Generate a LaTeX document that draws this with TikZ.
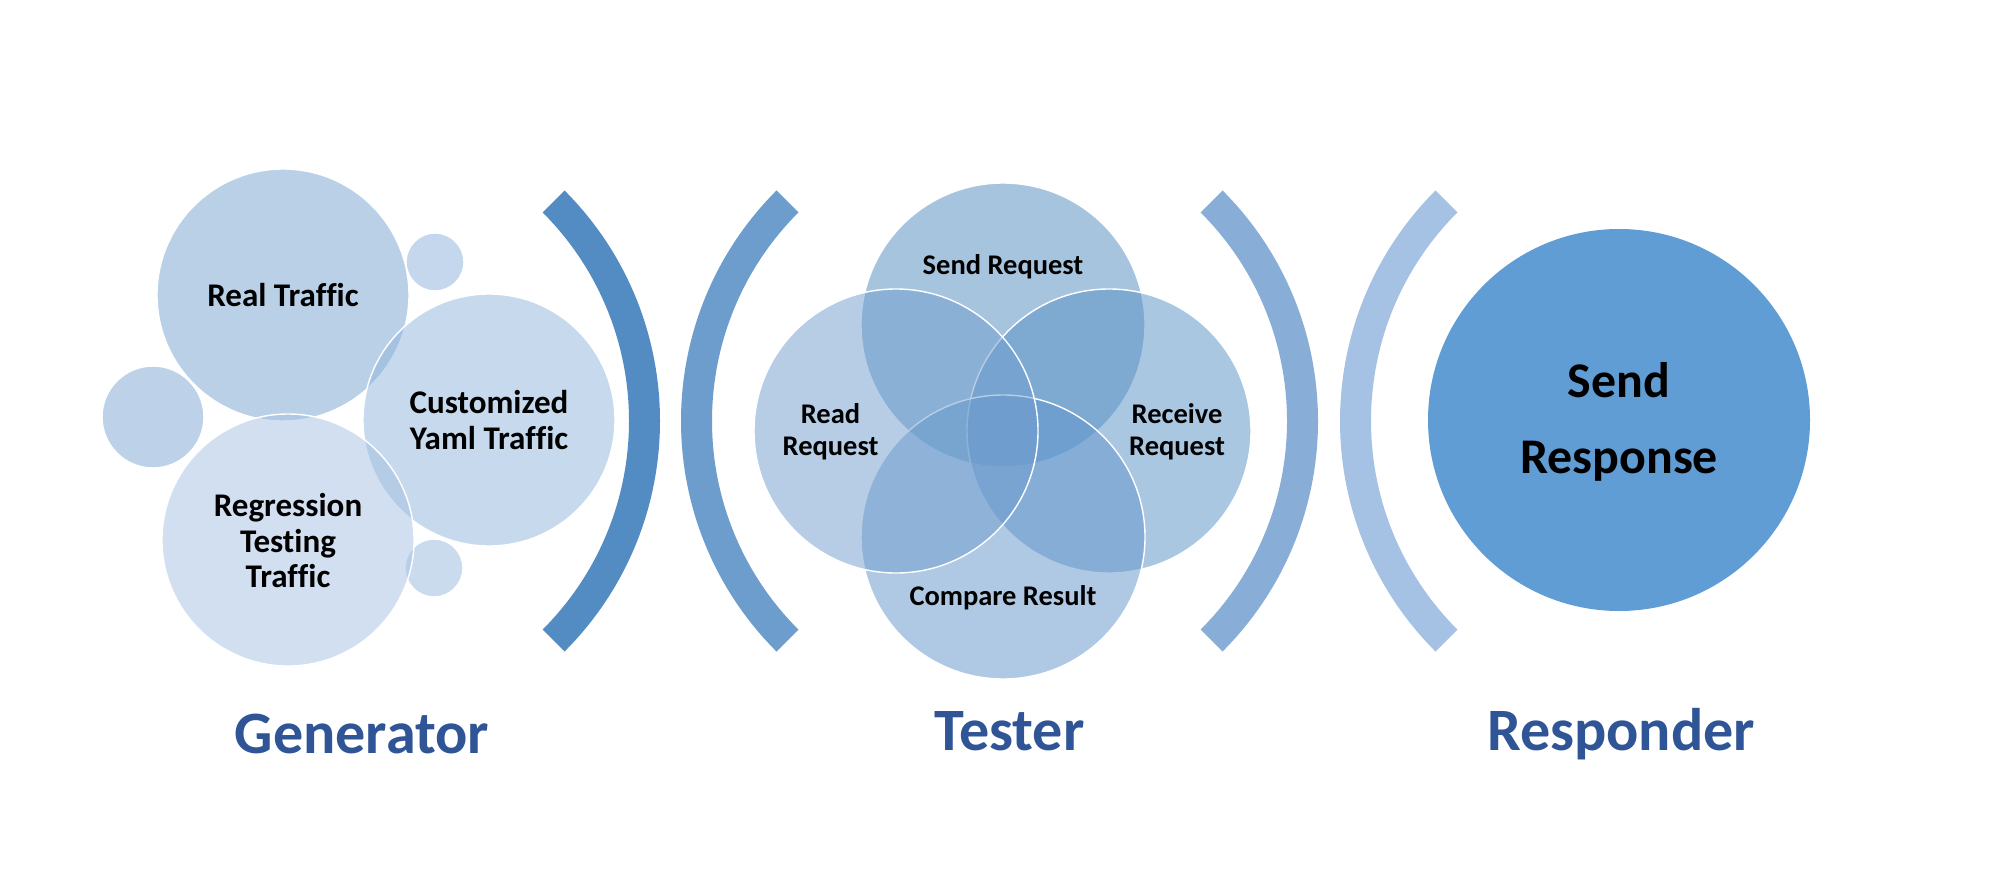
\documentclass[tikz,border=0pt]{standalone}
\usepackage{fontspec}
\setmainfont{Carlito}[Ligatures=CommonOff]
\usetikzlibrary{calc}
\definecolor{cReal}{RGB}{119,163,209}
\definecolor{cYaml}{RGB}{145,181,221}
\definecolor{cReg}{RGB}{165,193,227}
\definecolor{cSmA}{RGB}{125,167,211}
\definecolor{cSmB}{RGB}{139,177,219}
\definecolor{cSmC}{RGB}{153,185,223}
\definecolor{cSend}{RGB}{81,139,193}
\definecolor{cRead}{RGB}{111,157,205}
\definecolor{cRecv}{RGB}{87,145,199}
\definecolor{cComp}{RGB}{97,149,203}
\definecolor{cResp}{RGB}{96,157,213}
\definecolor{brkA}{RGB}{83,140,194}
\definecolor{brkB}{RGB}{108,157,204}
\definecolor{brkC}{RGB}{136,173,214}
\definecolor{brkD}{RGB}{165,194,228}
\definecolor{lblblue}{RGB}{47,85,151}
\begin{document}
\begin{tikzpicture}[x=0.01cm,y=-0.01cm,
  bubble/.style={draw=white, line width=0.4pt, fill opacity=0.5},
  gtext/.style={font=\fontsize{9.4}{10.1}\selectfont\bfseries, align=center, text=black, inner sep=0pt},
  ttext/.style={font=\fontsize{8.1}{9}\selectfont\bfseries, align=center, text=black, inner sep=0pt},
  rtext/.style={font=\fontsize{14.2}{21.7}\selectfont\bfseries, align=center, text=black, inner sep=0pt},
  grouplabel/.style={font=\fontsize{17.1}{20}\selectfont\bfseries, text=lblblue, anchor=base, inner sep=0pt}]
\useasboundingbox[fill=white] (0,0) rectangle (2000,888);

% ---------- Generator ----------
\fill[bubble, fill=cSmA] (153,417) circle[radius=51];
\fill[bubble, fill=cSmB] (435,262) circle[radius=29];
\fill[bubble, fill=cSmC] (434,568) circle[radius=29];
\filldraw[bubble, fill=cReal] (283,295) circle[radius=126];
\filldraw[bubble, fill=cYaml] (489,420) circle[radius=126];
\filldraw[bubble, fill=cReg] (288,540) circle[radius=126];
\node[gtext] (real) at (283,295) {Real Traffic};
\node[gtext] (yaml) at (489,420) {Customized\\Yaml Traffic};
\node[gtext] (regr) at (288,541) {Regression\\Testing\\Traffic};

% generator bracket )
\fill[brkA] ($(334,421)+(45:326)$) arc[start angle=45,end angle=-45,radius=326]
  -- ($(334,421)+(-45:295)$) arc[start angle=-45,end angle=45,radius=295] -- cycle;

% ---------- Tester ----------
\fill[brkB] ($(1007,421)+(135:326)$) arc[start angle=135,end angle=225,radius=326]
  -- ($(1007,421)+(225:295)$) arc[start angle=225,end angle=135,radius=295] -- cycle;
\fill[brkC] ($(992,421)+(45:326)$) arc[start angle=45,end angle=-45,radius=326]
  -- ($(992,421)+(-45:295)$) arc[start angle=-45,end angle=45,radius=295] -- cycle;

\filldraw[bubble, fill=cSend] (1003,325) circle[radius=142];
\filldraw[bubble, fill=cRecv] (1109,431) circle[radius=142];
\filldraw[bubble, fill=cComp] (1003,537) circle[radius=142];
\filldraw[bubble, fill=cRead] (896,431) circle[radius=142];
\node[ttext, anchor=base] (sendreq) at (1003,274.5) {Send Request};
\node[ttext] (readreq) at (830.5,432) {Read\\Request};
\node[ttext] (recvreq) at (1177,432) {Receive\\Request};
\node[ttext, anchor=base] (comp) at (1003,605) {Compare Result};

% ---------- Responder ----------
\fill[brkD] ($(1666,421)+(135:326)$) arc[start angle=135,end angle=225,radius=326]
  -- ($(1666,421)+(225:295)$) arc[start angle=225,end angle=135,radius=295] -- cycle;
\fill[cResp] (1619,420) circle[radius=191];
\node[rtext] (sendresp) at (1619,422) {Send\\Response};

% ---------- Labels ----------
\node[grouplabel] (lgen) at (362,753) {Generator};
\node[grouplabel] (ltest) at (1009.5,750) {Tester};
\node[grouplabel] (lresp) at (1621,750) {Responder};
\end{tikzpicture}
\end{document}
